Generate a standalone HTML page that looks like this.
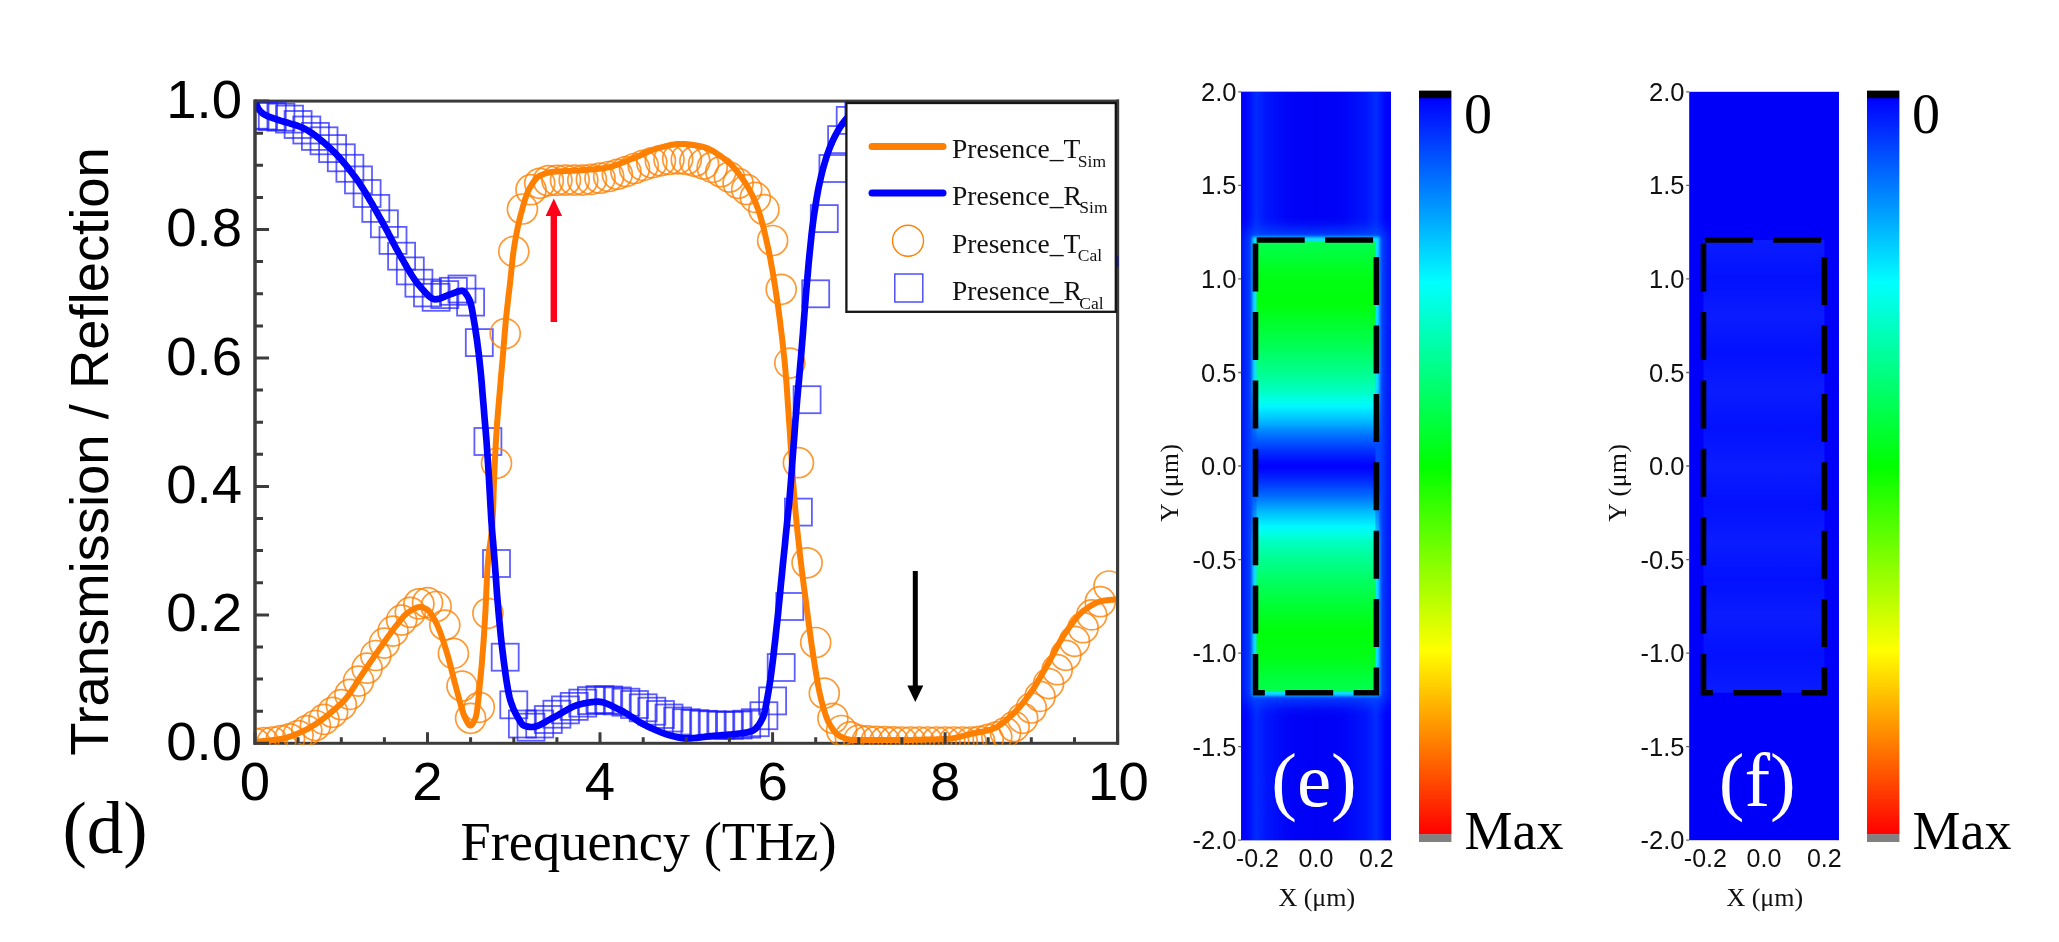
<!DOCTYPE html>
<html><head><meta charset="utf-8"><title>Figure</title>
<style>
html,body{margin:0;padding:0;background:#fff;}
body{width:2059px;height:942px;overflow:hidden;}
svg{display:block;filter:blur(0.55px)}
.sans{font-family:"Liberation Sans",Arial,sans-serif;}
.serif{font-family:"Liberation Serif","Times New Roman",serif;}
</style></head><body>
<svg width="2059" height="942" viewBox="0 0 2059 942">
<defs>
<clipPath id="pc"><rect x="255.8" y="102.0" width="860.9999999999999" height="642.8"/></clipPath>
<linearGradient id="jet" x1="0" y1="0" x2="0" y2="1">
<stop offset="0" stop-color="#0000ff"/><stop offset="0.25" stop-color="#00ffff"/><stop offset="0.5" stop-color="#00ff00"/><stop offset="0.75" stop-color="#ffff00"/><stop offset="1" stop-color="#ff0000"/>
</linearGradient>
<linearGradient id="inE" x1="0" y1="0" x2="0" y2="1"><stop offset="0.0000" stop-color="#00ff52"/><stop offset="0.0167" stop-color="#00ff45"/><stop offset="0.0333" stop-color="#00ff38"/><stop offset="0.0500" stop-color="#00ff2b"/><stop offset="0.0667" stop-color="#00ff1e"/><stop offset="0.0833" stop-color="#00ff14"/><stop offset="0.1000" stop-color="#00ff11"/><stop offset="0.1167" stop-color="#00ff0e"/><stop offset="0.1333" stop-color="#00ff0b"/><stop offset="0.1500" stop-color="#00ff13"/><stop offset="0.1667" stop-color="#00ff20"/><stop offset="0.1833" stop-color="#00ff2d"/><stop offset="0.2000" stop-color="#00ff3a"/><stop offset="0.2167" stop-color="#00ff47"/><stop offset="0.2333" stop-color="#00ff55"/><stop offset="0.2500" stop-color="#00ff65"/><stop offset="0.2667" stop-color="#00ff76"/><stop offset="0.2833" stop-color="#00ff86"/><stop offset="0.3000" stop-color="#00ff98"/><stop offset="0.3167" stop-color="#00ffad"/><stop offset="0.3333" stop-color="#00ffc1"/><stop offset="0.3500" stop-color="#00ffe4"/><stop offset="0.3667" stop-color="#00f8ff"/><stop offset="0.3833" stop-color="#00d9ff"/><stop offset="0.4000" stop-color="#00b9ff"/><stop offset="0.4167" stop-color="#0092ff"/><stop offset="0.4333" stop-color="#006dff"/><stop offset="0.4500" stop-color="#004eff"/><stop offset="0.4667" stop-color="#002fff"/><stop offset="0.4833" stop-color="#0015ff"/><stop offset="0.5000" stop-color="#0000ff"/><stop offset="0.5167" stop-color="#0015ff"/><stop offset="0.5333" stop-color="#002fff"/><stop offset="0.5500" stop-color="#004eff"/><stop offset="0.5667" stop-color="#006dff"/><stop offset="0.5833" stop-color="#0092ff"/><stop offset="0.6000" stop-color="#00b9ff"/><stop offset="0.6167" stop-color="#00d9ff"/><stop offset="0.6333" stop-color="#00f8ff"/><stop offset="0.6500" stop-color="#00ffe4"/><stop offset="0.6667" stop-color="#00ffc1"/><stop offset="0.6833" stop-color="#00ffad"/><stop offset="0.7000" stop-color="#00ff98"/><stop offset="0.7167" stop-color="#00ff86"/><stop offset="0.7333" stop-color="#00ff76"/><stop offset="0.7500" stop-color="#00ff65"/><stop offset="0.7667" stop-color="#00ff55"/><stop offset="0.7833" stop-color="#00ff47"/><stop offset="0.8000" stop-color="#00ff3a"/><stop offset="0.8167" stop-color="#00ff2d"/><stop offset="0.8333" stop-color="#00ff20"/><stop offset="0.8500" stop-color="#00ff13"/><stop offset="0.8667" stop-color="#00ff0b"/><stop offset="0.8833" stop-color="#00ff0e"/><stop offset="0.9000" stop-color="#00ff11"/><stop offset="0.9167" stop-color="#00ff14"/><stop offset="0.9333" stop-color="#00ff1e"/><stop offset="0.9500" stop-color="#00ff2b"/><stop offset="0.9667" stop-color="#00ff38"/><stop offset="0.9833" stop-color="#00ff45"/><stop offset="1.0000" stop-color="#00ff52"/></linearGradient><linearGradient id="hzE" x1="0" y1="0" x2="1" y2="0"><stop offset="0" stop-color="#0000fd"/><stop offset="0.04" stop-color="#0006ff"/><stop offset="0.10" stop-color="#002cff"/><stop offset="0.17" stop-color="#0014fc"/><stop offset="0.32" stop-color="#0003f7"/><stop offset="0.5" stop-color="#0000f5"/><stop offset="0.68" stop-color="#0003f7"/><stop offset="0.83" stop-color="#0014fc"/><stop offset="0.90" stop-color="#002cff"/><stop offset="0.96" stop-color="#0006ff"/><stop offset="1" stop-color="#0000fd"/></linearGradient><linearGradient id="glowUp" x1="0" y1="0" x2="0" y2="1"><stop offset="0" stop-color="#0048ff" stop-opacity="0"/><stop offset="0.6" stop-color="#0048ff" stop-opacity="0.25"/><stop offset="1" stop-color="#0058ff" stop-opacity="0.85"/></linearGradient><linearGradient id="glowDn" x1="0" y1="0" x2="0" y2="1"><stop offset="0" stop-color="#0058ff" stop-opacity="0.85"/><stop offset="0.4" stop-color="#0048ff" stop-opacity="0.25"/><stop offset="1" stop-color="#0048ff" stop-opacity="0"/></linearGradient><filter id="blur2" x="-20%" y="-5%" width="140%" height="110%"><feGaussianBlur stdDeviation="1.6"/></filter><filter id="blur7" x="-40%" y="-10%" width="180%" height="120%"><feGaussianBlur stdDeviation="7"/></filter><linearGradient id="rimE" x1="0" y1="0" x2="0" y2="1"><stop offset="0" stop-color="#10e0ff"/><stop offset="0.33" stop-color="#10e0ff"/><stop offset="0.45" stop-color="#0048ff"/><stop offset="0.55" stop-color="#0048ff"/><stop offset="0.67" stop-color="#10e0ff"/><stop offset="1" stop-color="#10e0ff"/></linearGradient><linearGradient id="sideE" x1="0" y1="0" x2="1" y2="0"><stop offset="0" stop-color="#0018ff"/><stop offset="0.05" stop-color="#0040ff"/><stop offset="0.095" stop-color="#0060ff"/><stop offset="0.0951" stop-color="#0060ff" stop-opacity="0"/><stop offset="0.9049" stop-color="#0060ff" stop-opacity="0"/><stop offset="0.905" stop-color="#0060ff"/><stop offset="0.95" stop-color="#0040ff"/><stop offset="1" stop-color="#0018ff"/></linearGradient>
<linearGradient id="inF" x1="0" y1="0" x2="0" y2="1"><stop offset="0.0000" stop-color="#0a1cff"/><stop offset="0.0833" stop-color="#0210ff"/><stop offset="0.1667" stop-color="#0a1cff"/><stop offset="0.2500" stop-color="#0210ff"/><stop offset="0.3333" stop-color="#0a1cff"/><stop offset="0.4167" stop-color="#0210ff"/><stop offset="0.5000" stop-color="#0a1cff"/><stop offset="0.5833" stop-color="#0210ff"/><stop offset="0.6667" stop-color="#0a1cff"/><stop offset="0.7500" stop-color="#0210ff"/><stop offset="0.8333" stop-color="#0a1cff"/><stop offset="0.9167" stop-color="#0210ff"/><stop offset="1.0000" stop-color="#0a1cff"/></linearGradient>
</defs>
<rect width="2059" height="942" fill="#fff"/>

<g id="plotd">
<rect x="255.0" y="101.1" width="862.5999999999999" height="642.1999999999999" stroke="#3c3c3c" stroke-width="3" fill="none"/>
<g clip-path="url(#pc)" fill="none">
<g stroke="#1a1aff" stroke-width="1.8" stroke-opacity="0.7"><rect x="241.5" y="101.7" width="27" height="27"/><rect x="250.1" y="102.4" width="27" height="27"/><rect x="258.8" y="103.0" width="27" height="27"/><rect x="267.4" y="103.7" width="27" height="27"/><rect x="276.0" y="105.6" width="27" height="27"/><rect x="284.6" y="111.0" width="27" height="27"/><rect x="293.3" y="116.5" width="27" height="27"/><rect x="301.9" y="122.9" width="27" height="27"/><rect x="310.5" y="127.3" width="27" height="27"/><rect x="319.1" y="135.1" width="27" height="27"/><rect x="327.8" y="144.3" width="27" height="27"/><rect x="336.4" y="154.8" width="27" height="27"/><rect x="345.0" y="166.4" width="27" height="27"/><rect x="353.6" y="180.0" width="27" height="27"/><rect x="362.3" y="194.9" width="27" height="27"/><rect x="370.9" y="210.3" width="27" height="27"/><rect x="379.5" y="226.9" width="27" height="27"/><rect x="388.1" y="242.7" width="27" height="27"/><rect x="396.8" y="257.4" width="27" height="27"/><rect x="405.4" y="269.7" width="27" height="27"/><rect x="414.0" y="279.4" width="27" height="27"/><rect x="422.6" y="283.8" width="27" height="27"/><rect x="431.3" y="281.1" width="27" height="27"/><rect x="439.9" y="277.8" width="27" height="27"/><rect x="448.5" y="275.5" width="27" height="27"/><rect x="457.1" y="288.6" width="27" height="27"/><rect x="465.8" y="329.1" width="27" height="27"/><rect x="474.4" y="428.0" width="27" height="27"/><rect x="483.0" y="550.0" width="27" height="27"/><rect x="491.7" y="643.7" width="27" height="27"/><rect x="500.3" y="691.3" width="27" height="27"/><rect x="508.9" y="710.5" width="27" height="27"/><rect x="517.5" y="713.7" width="27" height="27"/><rect x="526.2" y="710.5" width="27" height="27"/><rect x="534.8" y="706.0" width="27" height="27"/><rect x="543.4" y="700.7" width="27" height="27"/><rect x="552.0" y="696.4" width="27" height="27"/><rect x="560.7" y="692.9" width="27" height="27"/><rect x="569.3" y="689.6" width="27" height="27"/><rect x="577.9" y="687.1" width="27" height="27"/><rect x="586.5" y="686.1" width="27" height="27"/><rect x="595.2" y="686.5" width="27" height="27"/><rect x="603.8" y="687.4" width="27" height="27"/><rect x="612.4" y="688.7" width="27" height="27"/><rect x="621.0" y="691.0" width="27" height="27"/><rect x="629.7" y="694.3" width="27" height="27"/><rect x="638.3" y="697.7" width="27" height="27"/><rect x="646.9" y="701.0" width="27" height="27"/><rect x="655.5" y="704.5" width="27" height="27"/><rect x="664.2" y="707.5" width="27" height="27"/><rect x="672.8" y="709.2" width="27" height="27"/><rect x="681.4" y="710.1" width="27" height="27"/><rect x="690.1" y="710.8" width="27" height="27"/><rect x="698.7" y="711.3" width="27" height="27"/><rect x="707.3" y="711.7" width="27" height="27"/><rect x="715.9" y="711.8" width="27" height="27"/><rect x="724.6" y="711.5" width="27" height="27"/><rect x="733.2" y="710.7" width="27" height="27"/><rect x="741.8" y="709.2" width="27" height="27"/><rect x="750.4" y="702.2" width="27" height="27"/><rect x="759.1" y="687.4" width="27" height="27"/><rect x="767.7" y="654.0" width="27" height="27"/><rect x="776.3" y="593.0" width="27" height="27"/><rect x="784.9" y="498.6" width="27" height="27"/><rect x="793.6" y="386.2" width="27" height="27"/><rect x="802.2" y="280.3" width="27" height="27"/><rect x="810.8" y="205.1" width="27" height="27"/><rect x="819.4" y="155.0" width="27" height="27"/><rect x="828.1" y="126.1" width="27" height="27"/><rect x="836.7" y="106.9" width="27" height="27"/><rect x="845.3" y="97.2" width="27" height="27"/><rect x="853.9" y="94.8" width="27" height="27"/><rect x="862.6" y="93.0" width="27" height="27"/><rect x="871.2" y="91.8" width="27" height="27"/><rect x="879.8" y="91.0" width="27" height="27"/><rect x="888.4" y="90.8" width="27" height="27"/><rect x="897.1" y="90.8" width="27" height="27"/><rect x="905.7" y="90.8" width="27" height="27"/><rect x="914.3" y="90.8" width="27" height="27"/><rect x="923.0" y="90.8" width="27" height="27"/><rect x="931.6" y="90.8" width="27" height="27"/><rect x="940.2" y="90.8" width="27" height="27"/><rect x="948.8" y="90.8" width="27" height="27"/><rect x="957.5" y="90.8" width="27" height="27"/><rect x="966.1" y="90.8" width="27" height="27"/><rect x="974.7" y="90.8" width="27" height="27"/><rect x="983.3" y="90.8" width="27" height="27"/><rect x="992.0" y="90.8" width="27" height="27"/><rect x="1000.6" y="90.8" width="27" height="27"/><rect x="1009.2" y="90.8" width="27" height="27"/><rect x="1017.8" y="90.8" width="27" height="27"/><rect x="1026.5" y="90.8" width="27" height="27"/><rect x="1035.1" y="90.8" width="27" height="27"/><rect x="1043.7" y="90.8" width="27" height="27"/><rect x="1052.3" y="90.8" width="27" height="27"/><rect x="1061.0" y="90.8" width="27" height="27"/><rect x="1069.6" y="90.8" width="27" height="27"/><rect x="1078.2" y="90.8" width="27" height="27"/><rect x="1086.8" y="90.8" width="27" height="27"/><rect x="1095.5" y="90.8" width="27" height="27"/></g>
<g stroke="#ff8000" stroke-width="1.7" stroke-opacity="0.8"><circle cx="255.0" cy="743.3" r="15"/><circle cx="263.6" cy="742.7" r="15"/><circle cx="272.3" cy="742.0" r="15"/><circle cx="280.9" cy="740.7" r="15"/><circle cx="289.5" cy="738.8" r="15"/><circle cx="298.1" cy="735.6" r="15"/><circle cx="306.8" cy="730.6" r="15"/><circle cx="315.4" cy="725.5" r="15"/><circle cx="324.0" cy="719.4" r="15"/><circle cx="332.6" cy="712.3" r="15"/><circle cx="341.3" cy="704.7" r="15"/><circle cx="349.9" cy="694.4" r="15"/><circle cx="358.5" cy="681.1" r="15"/><circle cx="367.1" cy="668.2" r="15"/><circle cx="375.8" cy="655.5" r="15"/><circle cx="384.4" cy="643.1" r="15"/><circle cx="393.0" cy="631.1" r="15"/><circle cx="401.6" cy="620.1" r="15"/><circle cx="410.3" cy="612.3" r="15"/><circle cx="418.9" cy="603.9" r="15"/><circle cx="427.5" cy="602.7" r="15"/><circle cx="436.1" cy="606.5" r="15"/><circle cx="444.8" cy="625.1" r="15"/><circle cx="453.4" cy="653.4" r="15"/><circle cx="462.0" cy="686.1" r="15"/><circle cx="470.6" cy="718.3" r="15"/><circle cx="479.3" cy="707.3" r="15"/><circle cx="487.9" cy="613.3" r="15"/><circle cx="496.5" cy="463.3" r="15"/><circle cx="505.2" cy="333.6" r="15"/><circle cx="513.8" cy="251.4" r="15"/><circle cx="522.4" cy="209.0" r="15"/><circle cx="531.0" cy="189.7" r="15"/><circle cx="539.7" cy="183.3" r="15"/><circle cx="548.3" cy="180.7" r="15"/><circle cx="556.9" cy="180.3" r="15"/><circle cx="565.5" cy="180.1" r="15"/><circle cx="574.2" cy="180.1" r="15"/><circle cx="582.8" cy="180.1" r="15"/><circle cx="591.4" cy="179.4" r="15"/><circle cx="600.0" cy="178.2" r="15"/><circle cx="608.7" cy="176.5" r="15"/><circle cx="617.3" cy="174.3" r="15"/><circle cx="625.9" cy="171.6" r="15"/><circle cx="634.5" cy="168.5" r="15"/><circle cx="643.2" cy="165.4" r="15"/><circle cx="651.8" cy="162.8" r="15"/><circle cx="660.4" cy="160.8" r="15"/><circle cx="669.0" cy="159.5" r="15"/><circle cx="677.7" cy="158.9" r="15"/><circle cx="686.3" cy="159.5" r="15"/><circle cx="694.9" cy="161.3" r="15"/><circle cx="703.6" cy="164.0" r="15"/><circle cx="712.2" cy="167.4" r="15"/><circle cx="720.8" cy="171.7" r="15"/><circle cx="729.4" cy="177.1" r="15"/><circle cx="738.1" cy="183.3" r="15"/><circle cx="746.7" cy="189.6" r="15"/><circle cx="755.3" cy="197.4" r="15"/><circle cx="763.9" cy="209.6" r="15"/><circle cx="772.6" cy="240.5" r="15"/><circle cx="781.2" cy="289.3" r="15"/><circle cx="789.8" cy="363.1" r="15"/><circle cx="798.4" cy="462.7" r="15"/><circle cx="807.1" cy="562.8" r="15"/><circle cx="815.7" cy="642.5" r="15"/><circle cx="824.3" cy="693.2" r="15"/><circle cx="832.9" cy="718.3" r="15"/><circle cx="841.6" cy="730.5" r="15"/><circle cx="850.2" cy="736.9" r="15"/><circle cx="858.8" cy="740.1" r="15"/><circle cx="867.4" cy="740.8" r="15"/><circle cx="876.1" cy="741.4" r="15"/><circle cx="884.7" cy="741.7" r="15"/><circle cx="893.3" cy="741.9" r="15"/><circle cx="901.9" cy="742.0" r="15"/><circle cx="910.6" cy="742.0" r="15"/><circle cx="919.2" cy="742.0" r="15"/><circle cx="927.8" cy="742.0" r="15"/><circle cx="936.5" cy="742.0" r="15"/><circle cx="945.1" cy="742.0" r="15"/><circle cx="953.7" cy="742.0" r="15"/><circle cx="962.3" cy="742.0" r="15"/><circle cx="971.0" cy="742.0" r="15"/><circle cx="979.6" cy="741.3" r="15"/><circle cx="988.2" cy="739.4" r="15"/><circle cx="996.8" cy="736.9" r="15"/><circle cx="1005.5" cy="732.7" r="15"/><circle cx="1014.1" cy="726.6" r="15"/><circle cx="1022.7" cy="718.3" r="15"/><circle cx="1031.3" cy="708.0" r="15"/><circle cx="1040.0" cy="696.4" r="15"/><circle cx="1048.6" cy="683.6" r="15"/><circle cx="1057.2" cy="669.7" r="15"/><circle cx="1065.8" cy="655.3" r="15"/><circle cx="1074.5" cy="641.3" r="15"/><circle cx="1083.1" cy="627.7" r="15"/><circle cx="1091.7" cy="614.9" r="15"/><circle cx="1100.3" cy="601.7" r="15"/><circle cx="1109.0" cy="586.0" r="15"/></g>
<path d="M255.3,741.8 L256.3,741.7 L257.2,741.7 L258.2,741.6 L259.1,741.5 L260.1,741.4 L261.1,741.3 L262.0,741.2 L263.0,741.1 L263.9,741.1 L264.9,741.0 L265.9,740.9 L266.8,740.8 L267.8,740.7 L268.7,740.5 L269.7,740.4 L270.6,740.3 L271.6,740.2 L272.6,740.1 L273.5,740.0 L274.5,739.9 L275.4,739.8 L276.4,739.6 L277.4,739.5 L278.3,739.3 L279.3,739.2 L280.2,739.0 L281.2,738.9 L282.2,738.7 L283.1,738.5 L284.1,738.3 L285.0,738.0 L286.0,737.8 L287.0,737.5 L287.9,737.2 L288.9,736.9 L289.8,736.6 L290.8,736.3 L291.7,735.9 L292.7,735.6 L293.7,735.2 L294.6,734.8 L295.6,734.4 L296.5,734.0 L297.5,733.6 L298.5,733.2 L299.4,732.8 L300.4,732.3 L301.3,731.9 L302.3,731.5 L303.3,731.0 L304.2,730.6 L305.2,730.1 L306.1,729.7 L307.1,729.2 L308.1,728.7 L309.0,728.1 L310.0,727.6 L310.9,727.0 L311.9,726.4 L312.9,725.8 L313.8,725.2 L314.8,724.6 L315.7,724.0 L316.7,723.4 L317.6,722.7 L318.6,722.1 L319.6,721.4 L320.5,720.7 L321.5,720.1 L322.4,719.4 L323.4,718.6 L324.4,717.9 L325.3,717.1 L326.3,716.4 L327.2,715.6 L328.2,714.8 L329.2,714.0 L330.1,713.2 L331.1,712.4 L332.0,711.6 L333.0,710.7 L334.0,709.9 L334.9,709.1 L335.9,708.3 L336.8,707.4 L337.8,706.6 L338.7,705.7 L339.7,704.9 L340.7,704.0 L341.6,703.0 L342.6,702.1 L343.5,701.1 L344.5,700.1 L345.5,699.0 L346.4,697.8 L347.4,696.6 L348.3,695.3 L349.3,694.0 L350.3,692.6 L351.2,691.2 L352.2,689.8 L353.1,688.3 L354.1,686.8 L355.1,685.3 L356.0,683.8 L357.0,682.2 L357.9,680.7 L358.9,679.2 L359.9,677.7 L360.8,676.3 L361.8,674.8 L362.7,673.4 L363.7,672.0 L364.6,670.6 L365.6,669.2 L366.6,667.8 L367.5,666.4 L368.5,664.9 L369.4,663.5 L370.4,662.1 L371.4,660.7 L372.3,659.3 L373.3,657.9 L374.2,656.5 L375.2,655.1 L376.2,653.7 L377.1,652.3 L378.1,650.9 L379.0,649.5 L380.0,648.1 L381.0,646.8 L381.9,645.4 L382.9,644.0 L383.8,642.7 L384.8,641.3 L385.7,639.9 L386.7,638.5 L387.7,637.2 L388.6,635.8 L389.6,634.5 L390.5,633.2 L391.5,631.8 L392.5,630.6 L393.4,629.3 L394.4,628.0 L395.3,626.8 L396.3,625.6 L397.3,624.4 L398.2,623.2 L399.2,621.9 L400.1,620.7 L401.1,619.5 L402.1,618.3 L403.0,617.2 L404.0,616.1 L404.9,615.1 L405.9,614.2 L406.8,613.3 L407.8,612.6 L408.8,612.0 L409.7,611.4 L410.7,610.7 L411.6,610.1 L412.6,609.6 L413.6,609.0 L414.5,608.5 L415.5,608.1 L416.4,607.7 L417.4,607.4 L418.4,607.2 L419.3,607.0 L420.3,607.0 L421.2,607.1 L422.2,607.3 L423.2,607.6 L424.1,608.0 L425.1,608.5 L426.0,609.0 L427.0,609.5 L428.0,610.2 L428.9,611.1 L429.9,612.2 L430.8,613.5 L431.8,614.9 L432.7,616.5 L433.7,618.2 L434.7,619.9 L435.6,621.7 L436.6,623.5 L437.5,625.6 L438.5,627.8 L439.5,630.3 L440.4,632.8 L441.4,635.6 L442.3,638.4 L443.3,641.3 L444.3,644.2 L445.2,647.3 L446.2,650.3 L447.1,653.4 L448.1,656.7 L449.1,660.2 L450.0,663.9 L451.0,667.6 L451.9,671.4 L452.9,675.3 L453.8,679.1 L454.8,682.8 L455.8,686.5 L456.7,690.0 L457.7,693.5 L458.6,697.1 L459.6,700.7 L460.6,704.3 L461.5,707.7 L462.5,711.0 L463.4,713.9 L464.4,716.4 L465.4,718.4 L466.3,720.4 L467.3,722.3 L468.2,723.9 L469.2,725.1 L470.2,725.6 L471.1,725.4 L472.1,724.5 L473.0,723.2 L474.0,721.4 L475.0,719.3 L475.9,716.7 L476.9,711.9 L477.8,704.6 L478.8,695.7 L479.7,685.8 L480.7,675.6 L481.7,665.3 L482.6,653.8 L483.6,641.0 L484.5,626.8 L485.5,610.0 L486.5,588.0 L487.4,568.6 L488.4,557.2 L489.3,549.3 L490.3,542.7 L491.3,535.4 L492.2,525.3 L493.2,507.0 L494.1,477.7 L495.1,456.2 L496.1,438.4 L497.0,424.2 L498.0,412.2 L498.9,401.2 L499.9,390.0 L500.8,378.8 L501.8,367.8 L502.8,356.8 L503.7,345.5 L504.7,334.1 L505.6,323.1 L506.6,313.0 L507.6,304.1 L508.5,295.9 L509.5,288.0 L510.4,279.6 L511.4,270.2 L512.4,260.5 L513.3,252.6 L514.3,246.3 L515.2,240.5 L516.2,235.1 L517.2,230.2 L518.1,225.7 L519.1,221.5 L520.0,217.5 L521.0,213.8 L522.0,210.2 L522.9,206.7 L523.9,203.4 L524.8,200.2 L525.8,197.3 L526.7,194.6 L527.7,192.1 L528.7,190.0 L529.6,188.2 L530.6,186.6 L531.5,185.0 L532.5,183.5 L533.5,182.0 L534.4,180.7 L535.4,179.5 L536.3,178.4 L537.3,177.5 L538.3,176.7 L539.2,176.0 L540.2,175.5 L541.1,175.1 L542.1,174.7 L543.1,174.3 L544.0,173.9 L545.0,173.6 L545.9,173.2 L546.9,173.0 L547.8,172.7 L548.8,172.5 L549.8,172.3 L550.7,172.1 L551.7,172.0 L552.6,171.8 L553.6,171.7 L554.6,171.7 L555.5,171.6 L556.5,171.5 L557.4,171.4 L558.4,171.4 L559.4,171.3 L560.3,171.3 L561.3,171.2 L562.2,171.2 L563.2,171.1 L564.2,171.1 L565.1,171.1 L566.1,171.0 L567.0,171.0 L568.0,170.9 L569.0,170.9 L569.9,170.9 L570.9,170.8 L571.8,170.8 L572.8,170.8 L573.7,170.7 L574.7,170.7 L575.7,170.6 L576.6,170.6 L577.6,170.5 L578.5,170.5 L579.5,170.4 L580.5,170.3 L581.4,170.3 L582.4,170.2 L583.3,170.1 L584.3,170.1 L585.3,170.0 L586.2,169.9 L587.2,169.9 L588.1,169.8 L589.1,169.7 L590.1,169.6 L591.0,169.5 L592.0,169.5 L592.9,169.4 L593.9,169.3 L594.8,169.2 L595.8,169.1 L596.8,169.0 L597.7,168.9 L598.7,168.8 L599.6,168.7 L600.6,168.5 L601.6,168.4 L602.5,168.3 L603.5,168.2 L604.4,168.0 L605.4,167.9 L606.4,167.7 L607.3,167.6 L608.3,167.4 L609.2,167.2 L610.2,166.9 L611.2,166.7 L612.1,166.4 L613.1,166.1 L614.0,165.8 L615.0,165.5 L616.0,165.2 L616.9,164.8 L617.9,164.5 L618.8,164.1 L619.8,163.7 L620.7,163.3 L621.7,162.9 L622.7,162.6 L623.6,162.2 L624.6,161.8 L625.5,161.4 L626.5,161.0 L627.5,160.6 L628.4,160.2 L629.4,159.8 L630.3,159.4 L631.3,159.0 L632.3,158.7 L633.2,158.3 L634.2,157.9 L635.1,157.5 L636.1,157.1 L637.1,156.7 L638.0,156.3 L639.0,155.9 L639.9,155.5 L640.9,155.0 L641.8,154.6 L642.8,154.2 L643.8,153.7 L644.7,153.3 L645.7,152.9 L646.6,152.4 L647.6,152.0 L648.6,151.6 L649.5,151.2 L650.5,150.8 L651.4,150.4 L652.4,150.0 L653.4,149.7 L654.3,149.3 L655.3,149.0 L656.2,148.7 L657.2,148.4 L658.2,148.1 L659.1,147.9 L660.1,147.6 L661.0,147.4 L662.0,147.1 L663.0,146.9 L663.9,146.6 L664.9,146.4 L665.8,146.1 L666.8,145.9 L667.7,145.7 L668.7,145.5 L669.7,145.2 L670.6,145.0 L671.6,144.8 L672.5,144.7 L673.5,144.5 L674.5,144.4 L675.4,144.2 L676.4,144.1 L677.3,144.0 L678.3,144.0 L679.3,143.9 L680.2,143.9 L681.2,143.9 L682.1,143.9 L683.1,144.0 L684.1,144.0 L685.0,144.1 L686.0,144.1 L686.9,144.2 L687.9,144.3 L688.8,144.4 L689.8,144.5 L690.8,144.6 L691.7,144.8 L692.7,144.9 L693.6,145.0 L694.6,145.2 L695.6,145.4 L696.5,145.5 L697.5,145.7 L698.4,145.9 L699.4,146.1 L700.4,146.2 L701.3,146.4 L702.3,146.6 L703.2,146.9 L704.2,147.1 L705.2,147.4 L706.1,147.8 L707.1,148.1 L708.0,148.5 L709.0,149.0 L709.9,149.4 L710.9,149.9 L711.9,150.4 L712.8,151.0 L713.8,151.5 L714.7,152.1 L715.7,152.7 L716.7,153.4 L717.6,154.0 L718.6,154.7 L719.5,155.3 L720.5,156.0 L721.5,156.7 L722.4,157.4 L723.4,158.1 L724.3,158.8 L725.3,159.6 L726.3,160.3 L727.2,161.1 L728.2,161.9 L729.1,162.8 L730.1,163.7 L731.1,164.7 L732.0,165.7 L733.0,166.7 L733.9,167.8 L734.9,168.9 L735.8,170.0 L736.8,171.2 L737.8,172.4 L738.7,173.6 L739.7,174.9 L740.6,176.2 L741.6,177.5 L742.6,178.9 L743.5,180.3 L744.5,181.7 L745.4,183.2 L746.4,184.7 L747.4,186.3 L748.3,187.9 L749.3,189.6 L750.2,191.4 L751.2,193.2 L752.2,195.1 L753.1,197.2 L754.1,199.3 L755.0,201.5 L756.0,203.8 L756.9,206.2 L757.9,208.7 L758.9,211.5 L759.8,214.5 L760.8,217.7 L761.7,221.1 L762.7,224.8 L763.7,228.6 L764.6,232.5 L765.6,236.6 L766.5,240.8 L767.5,245.1 L768.5,249.5 L769.4,254.2 L770.4,259.2 L771.3,264.4 L772.3,269.8 L773.3,275.5 L774.2,281.3 L775.2,287.3 L776.1,293.5 L777.1,299.8 L778.1,306.5 L779.0,313.5 L780.0,320.9 L780.9,328.5 L781.9,336.5 L782.8,344.7 L783.8,353.5 L784.8,363.1 L785.7,373.8 L786.7,386.2 L787.6,399.9 L788.6,414.3 L789.6,428.6 L790.5,442.6 L791.5,457.1 L792.4,471.7 L793.4,485.7 L794.4,498.3 L795.3,509.4 L796.3,519.7 L797.2,529.3 L798.2,538.5 L799.2,547.2 L800.1,555.7 L801.1,563.9 L802.0,571.7 L803.0,579.3 L803.9,586.7 L804.9,593.9 L805.9,601.2 L806.8,608.5 L807.8,615.9 L808.7,623.3 L809.7,630.6 L810.7,637.8 L811.6,644.7 L812.6,651.3 L813.5,657.5 L814.5,663.6 L815.5,669.7 L816.4,675.5 L817.4,681.2 L818.3,686.5 L819.3,691.4 L820.3,695.9 L821.2,699.8 L822.2,703.5 L823.1,707.0 L824.1,710.2 L825.1,713.3 L826.0,716.1 L827.0,718.6 L827.9,720.9 L828.9,722.8 L829.8,724.5 L830.8,726.1 L831.8,727.6 L832.7,729.1 L833.7,730.4 L834.6,731.6 L835.6,732.8 L836.6,733.8 L837.5,734.6 L838.5,735.3 L839.4,735.9 L840.4,736.4 L841.4,736.8 L842.3,737.3 L843.3,737.7 L844.2,738.1 L845.2,738.4 L846.2,738.8 L847.1,739.1 L848.1,739.3 L849.0,739.6 L850.0,739.7 L850.9,739.9 L851.9,740.0 L852.9,740.0 L853.8,740.0 L854.8,740.0 L855.7,740.0 L856.7,740.0 L857.7,740.0 L858.6,740.0 L859.6,740.0 L860.5,740.0 L861.5,740.0 L862.5,740.0 L863.4,740.0 L864.4,740.0 L865.3,740.0 L866.3,740.0 L867.3,740.0 L868.2,740.0 L869.2,740.0 L870.1,740.0 L871.1,740.0 L872.1,740.0 L873.0,740.0 L874.0,740.0 L874.9,740.0 L875.9,740.0 L876.8,740.0 L877.8,740.0 L878.8,740.0 L879.7,740.0 L880.7,740.0 L881.6,740.0 L882.6,740.0 L883.6,740.0 L884.5,740.0 L885.5,740.0 L886.4,740.0 L887.4,740.0 L888.4,740.0 L889.3,740.0 L890.3,740.0 L891.2,740.0 L892.2,740.0 L893.2,740.0 L894.1,740.0 L895.1,740.0 L896.0,740.0 L897.0,740.0 L897.9,740.0 L898.9,740.0 L899.9,740.0 L900.8,740.0 L901.8,740.0 L902.7,740.0 L903.7,740.0 L904.7,739.9 L905.6,739.9 L906.6,739.9 L907.5,739.9 L908.5,739.9 L909.5,739.9 L910.4,739.9 L911.4,739.9 L912.3,739.9 L913.3,739.9 L914.3,739.8 L915.2,739.8 L916.2,739.8 L917.1,739.8 L918.1,739.8 L919.1,739.8 L920.0,739.7 L921.0,739.7 L921.9,739.7 L922.9,739.7 L923.8,739.7 L924.8,739.6 L925.8,739.6 L926.7,739.6 L927.7,739.6 L928.6,739.5 L929.6,739.5 L930.6,739.5 L931.5,739.5 L932.5,739.4 L933.4,739.4 L934.4,739.4 L935.4,739.4 L936.3,739.3 L937.3,739.3 L938.2,739.3 L939.2,739.2 L940.2,739.2 L941.1,739.2 L942.1,739.1 L943.0,739.1 L944.0,739.1 L944.9,739.0 L945.9,739.0 L946.9,738.9 L947.8,738.9 L948.8,738.8 L949.7,738.7 L950.7,738.6 L951.7,738.4 L952.6,738.3 L953.6,738.1 L954.5,737.9 L955.5,737.7 L956.5,737.5 L957.4,737.3 L958.4,737.1 L959.3,736.9 L960.3,736.6 L961.3,736.4 L962.2,736.1 L963.2,735.9 L964.1,735.6 L965.1,735.4 L966.1,735.1 L967.0,734.9 L968.0,734.7 L968.9,734.4 L969.9,734.2 L970.8,734.0 L971.8,733.7 L972.8,733.5 L973.7,733.3 L974.7,733.1 L975.6,732.9 L976.6,732.7 L977.6,732.5 L978.5,732.3 L979.5,732.2 L980.4,732.0 L981.4,731.8 L982.4,731.6 L983.3,731.4 L984.3,731.2 L985.2,730.9 L986.2,730.7 L987.2,730.5 L988.1,730.2 L989.1,730.0 L990.0,729.7 L991.0,729.4 L991.9,729.1 L992.9,728.7 L993.9,728.4 L994.8,728.0 L995.8,727.6 L996.7,727.1 L997.7,726.5 L998.7,725.9 L999.6,725.3 L1000.6,724.7 L1001.5,724.0 L1002.5,723.2 L1003.5,722.5 L1004.4,721.7 L1005.4,720.9 L1006.3,720.1 L1007.3,719.2 L1008.3,718.4 L1009.2,717.5 L1010.2,716.7 L1011.1,715.8 L1012.1,714.9 L1013.0,714.0 L1014.0,713.1 L1015.0,712.1 L1015.9,711.1 L1016.9,710.1 L1017.8,709.1 L1018.8,708.0 L1019.8,706.9 L1020.7,705.7 L1021.7,704.6 L1022.6,703.4 L1023.6,702.2 L1024.6,700.9 L1025.5,699.7 L1026.5,698.4 L1027.4,697.1 L1028.4,695.8 L1029.4,694.5 L1030.3,693.2 L1031.3,691.8 L1032.2,690.4 L1033.2,689.0 L1034.2,687.5 L1035.1,686.0 L1036.1,684.4 L1037.0,682.8 L1038.0,681.2 L1038.9,679.5 L1039.9,677.9 L1040.9,676.2 L1041.8,674.5 L1042.8,672.8 L1043.7,671.1 L1044.7,669.5 L1045.7,667.8 L1046.6,666.1 L1047.6,664.5 L1048.5,662.8 L1049.5,661.0 L1050.5,659.3 L1051.4,657.5 L1052.4,655.7 L1053.3,653.9 L1054.3,652.1 L1055.3,650.2 L1056.2,648.4 L1057.2,646.7 L1058.1,644.9 L1059.1,643.2 L1060.0,641.5 L1061.0,639.8 L1062.0,638.2 L1062.9,636.7 L1063.9,635.2 L1064.8,633.7 L1065.8,632.3 L1066.8,630.9 L1067.7,629.6 L1068.7,628.2 L1069.6,626.8 L1070.6,625.5 L1071.6,624.1 L1072.5,622.8 L1073.5,621.6 L1074.4,620.3 L1075.4,619.1 L1076.4,617.9 L1077.3,616.8 L1078.3,615.7 L1079.2,614.7 L1080.2,613.7 L1081.2,612.8 L1082.1,611.9 L1083.1,611.1 L1084.0,610.4 L1085.0,609.7 L1085.9,609.0 L1086.9,608.4 L1087.9,607.7 L1088.8,607.0 L1089.8,606.4 L1090.7,605.8 L1091.7,605.2 L1092.7,604.7 L1093.6,604.1 L1094.6,603.6 L1095.5,603.1 L1096.5,602.7 L1097.5,602.3 L1098.4,601.9 L1099.4,601.6 L1100.3,601.3 L1101.3,601.1 L1102.3,600.9 L1103.2,600.8 L1104.2,600.6 L1105.1,600.5 L1106.1,600.4 L1107.0,600.2 L1108.0,600.1 L1109.0,600.0 L1109.9,599.9 L1110.9,599.8 L1111.8,599.7 L1112.8,599.7 L1113.8,599.6 L1114.7,599.6 L1115.7,599.5 L1116.6,599.5 L1117.6,599.5" stroke="#ff8000" stroke-width="6" stroke-linejoin="round"/>
<path d="M255.3,100.9 L256.3,103.8 L257.2,106.4 L258.2,108.3 L259.1,109.7 L260.1,111.0 L261.1,112.0 L262.0,112.9 L263.0,113.7 L263.9,114.3 L264.9,114.8 L265.9,115.3 L266.8,115.8 L267.8,116.2 L268.7,116.6 L269.7,117.0 L270.6,117.3 L271.6,117.6 L272.6,118.0 L273.5,118.3 L274.5,118.6 L275.4,118.9 L276.4,119.3 L277.4,119.6 L278.3,119.9 L279.3,120.3 L280.2,120.6 L281.2,120.9 L282.2,121.2 L283.1,121.5 L284.1,121.7 L285.0,122.0 L286.0,122.3 L287.0,122.6 L287.9,122.8 L288.9,123.1 L289.8,123.4 L290.8,123.7 L291.7,123.9 L292.7,124.2 L293.7,124.5 L294.6,124.8 L295.6,125.1 L296.5,125.5 L297.5,125.8 L298.5,126.1 L299.4,126.5 L300.4,126.9 L301.3,127.3 L302.3,127.7 L303.3,128.1 L304.2,128.6 L305.2,129.1 L306.1,129.6 L307.1,130.1 L308.1,130.7 L309.0,131.3 L310.0,131.9 L310.9,132.5 L311.9,133.1 L312.9,133.8 L313.8,134.5 L314.8,135.2 L315.7,135.9 L316.7,136.7 L317.6,137.4 L318.6,138.2 L319.6,139.0 L320.5,139.8 L321.5,140.6 L322.4,141.4 L323.4,142.2 L324.4,143.0 L325.3,143.9 L326.3,144.7 L327.2,145.6 L328.2,146.4 L329.2,147.3 L330.1,148.2 L331.1,149.1 L332.0,150.0 L333.0,150.9 L334.0,151.8 L334.9,152.8 L335.9,153.8 L336.8,154.8 L337.8,155.8 L338.7,156.9 L339.7,157.9 L340.7,159.0 L341.6,160.1 L342.6,161.2 L343.5,162.4 L344.5,163.5 L345.5,164.7 L346.4,165.8 L347.4,167.0 L348.3,168.2 L349.3,169.4 L350.3,170.7 L351.2,171.9 L352.2,173.2 L353.1,174.4 L354.1,175.7 L355.1,177.0 L356.0,178.3 L357.0,179.6 L357.9,181.0 L358.9,182.4 L359.9,183.8 L360.8,185.3 L361.8,186.7 L362.7,188.2 L363.7,189.8 L364.6,191.3 L365.6,192.9 L366.6,194.5 L367.5,196.1 L368.5,197.7 L369.4,199.3 L370.4,201.0 L371.4,202.6 L372.3,204.3 L373.3,206.0 L374.2,207.7 L375.2,209.4 L376.2,211.1 L377.1,212.8 L378.1,214.5 L379.0,216.2 L380.0,217.9 L381.0,219.6 L381.9,221.3 L382.9,223.0 L383.8,224.7 L384.8,226.5 L385.7,228.3 L386.7,230.1 L387.7,231.9 L388.6,233.8 L389.6,235.6 L390.5,237.5 L391.5,239.3 L392.5,241.2 L393.4,243.1 L394.4,244.9 L395.3,246.7 L396.3,248.6 L397.3,250.3 L398.2,252.1 L399.2,253.8 L400.1,255.5 L401.1,257.2 L402.1,258.8 L403.0,260.4 L404.0,262.1 L404.9,263.8 L405.9,265.4 L406.8,267.1 L407.8,268.7 L408.8,270.3 L409.7,271.9 L410.7,273.5 L411.6,275.0 L412.6,276.5 L413.6,278.0 L414.5,279.4 L415.5,280.8 L416.4,282.1 L417.4,283.3 L418.4,284.5 L419.3,285.6 L420.3,286.7 L421.2,287.8 L422.2,288.9 L423.2,290.0 L424.1,291.1 L425.1,292.2 L426.0,293.2 L427.0,294.2 L428.0,295.2 L428.9,296.1 L429.9,296.9 L430.8,297.6 L431.8,298.2 L432.7,298.7 L433.7,299.1 L434.7,299.3 L435.6,299.3 L436.6,299.2 L437.5,299.1 L438.5,298.9 L439.5,298.6 L440.4,298.3 L441.4,298.0 L442.3,297.6 L443.3,297.2 L444.3,296.8 L445.2,296.3 L446.2,295.9 L447.1,295.5 L448.1,295.1 L449.1,294.7 L450.0,294.4 L451.0,294.1 L451.9,293.8 L452.9,293.4 L453.8,293.0 L454.8,292.7 L455.8,292.3 L456.7,292.0 L457.7,291.6 L458.6,291.4 L459.6,291.2 L460.6,291.0 L461.5,290.9 L462.5,290.9 L463.4,291.3 L464.4,292.0 L465.4,293.0 L466.3,294.3 L467.3,295.8 L468.2,297.5 L469.2,299.4 L470.2,301.5 L471.1,305.0 L472.1,309.7 L473.0,315.1 L474.0,321.0 L475.0,326.8 L475.9,332.9 L476.9,339.5 L477.8,346.6 L478.8,354.3 L479.7,362.6 L480.7,372.0 L481.7,382.8 L482.6,394.4 L483.6,406.0 L484.5,417.4 L485.5,428.9 L486.5,441.0 L487.4,454.4 L488.4,468.9 L489.3,484.5 L490.3,502.3 L491.3,519.4 L492.2,532.1 L493.2,543.2 L494.1,554.7 L495.1,567.6 L496.1,581.0 L497.0,593.9 L498.0,605.7 L498.9,616.3 L499.9,626.4 L500.8,636.0 L501.8,645.0 L502.8,653.2 L503.7,660.7 L504.7,667.9 L505.6,674.8 L506.6,681.4 L507.6,687.4 L508.5,692.7 L509.5,697.1 L510.4,700.5 L511.4,703.5 L512.4,706.1 L513.3,708.6 L514.3,710.7 L515.2,712.7 L516.2,714.6 L517.2,716.3 L518.1,717.9 L519.1,719.5 L520.0,721.1 L521.0,722.6 L522.0,723.9 L522.9,724.9 L523.9,725.6 L524.8,725.9 L525.8,726.1 L526.7,726.4 L527.7,726.6 L528.7,726.7 L529.6,726.9 L530.6,727.0 L531.5,727.0 L532.5,727.0 L533.5,726.9 L534.4,726.8 L535.4,726.6 L536.3,726.3 L537.3,726.0 L538.3,725.6 L539.2,725.2 L540.2,724.8 L541.1,724.3 L542.1,723.8 L543.1,723.3 L544.0,722.7 L545.0,722.2 L545.9,721.6 L546.9,721.0 L547.8,720.5 L548.8,719.9 L549.8,719.4 L550.7,718.9 L551.7,718.3 L552.6,717.9 L553.6,717.4 L554.6,716.9 L555.5,716.4 L556.5,715.9 L557.4,715.4 L558.4,714.9 L559.4,714.3 L560.3,713.8 L561.3,713.2 L562.2,712.6 L563.2,712.0 L564.2,711.5 L565.1,710.9 L566.1,710.4 L567.0,709.8 L568.0,709.3 L569.0,708.7 L569.9,708.2 L570.9,707.7 L571.8,707.2 L572.8,706.8 L573.7,706.4 L574.7,706.0 L575.7,705.6 L576.6,705.2 L577.6,704.9 L578.5,704.7 L579.5,704.4 L580.5,704.2 L581.4,704.0 L582.4,703.8 L583.3,703.6 L584.3,703.4 L585.3,703.2 L586.2,703.0 L587.2,702.8 L588.1,702.7 L589.1,702.5 L590.1,702.3 L591.0,702.2 L592.0,702.1 L592.9,702.0 L593.9,701.9 L594.8,701.8 L595.8,701.8 L596.8,701.7 L597.7,701.7 L598.7,701.7 L599.6,701.8 L600.6,701.9 L601.6,702.1 L602.5,702.3 L603.5,702.5 L604.4,702.8 L605.4,703.1 L606.4,703.5 L607.3,703.9 L608.3,704.3 L609.2,704.7 L610.2,705.1 L611.2,705.6 L612.1,706.1 L613.1,706.5 L614.0,707.0 L615.0,707.5 L616.0,708.0 L616.9,708.5 L617.9,708.9 L618.8,709.4 L619.8,709.8 L620.7,710.3 L621.7,710.8 L622.7,711.3 L623.6,711.8 L624.6,712.4 L625.5,712.9 L626.5,713.5 L627.5,714.1 L628.4,714.7 L629.4,715.4 L630.3,716.0 L631.3,716.6 L632.3,717.3 L633.2,717.9 L634.2,718.5 L635.1,719.2 L636.1,719.8 L637.1,720.4 L638.0,721.1 L639.0,721.7 L639.9,722.3 L640.9,722.8 L641.8,723.4 L642.8,723.9 L643.8,724.5 L644.7,725.0 L645.7,725.4 L646.6,725.9 L647.6,726.4 L648.6,726.8 L649.5,727.3 L650.5,727.7 L651.4,728.2 L652.4,728.6 L653.4,729.0 L654.3,729.5 L655.3,729.9 L656.2,730.3 L657.2,730.7 L658.2,731.1 L659.1,731.5 L660.1,731.9 L661.0,732.3 L662.0,732.7 L663.0,733.0 L663.9,733.4 L664.9,733.7 L665.8,734.1 L666.8,734.4 L667.7,734.7 L668.7,735.0 L669.7,735.3 L670.6,735.5 L671.6,735.8 L672.5,736.0 L673.5,736.2 L674.5,736.5 L675.4,736.7 L676.4,736.9 L677.3,737.2 L678.3,737.4 L679.3,737.6 L680.2,737.8 L681.2,738.0 L682.1,738.1 L683.1,738.2 L684.1,738.3 L685.0,738.4 L686.0,738.4 L686.9,738.4 L687.9,738.4 L688.8,738.3 L689.8,738.3 L690.8,738.3 L691.7,738.2 L692.7,738.1 L693.6,738.0 L694.6,738.0 L695.6,737.9 L696.5,737.8 L697.5,737.7 L698.4,737.6 L699.4,737.4 L700.4,737.3 L701.3,737.2 L702.3,737.1 L703.2,737.0 L704.2,736.9 L705.2,736.7 L706.1,736.6 L707.1,736.5 L708.0,736.4 L709.0,736.3 L709.9,736.2 L710.9,736.1 L711.9,736.0 L712.8,735.9 L713.8,735.8 L714.7,735.8 L715.7,735.7 L716.7,735.6 L717.6,735.5 L718.6,735.5 L719.5,735.4 L720.5,735.3 L721.5,735.2 L722.4,735.2 L723.4,735.1 L724.3,735.0 L725.3,734.9 L726.3,734.9 L727.2,734.8 L728.2,734.7 L729.1,734.6 L730.1,734.5 L731.1,734.5 L732.0,734.4 L733.0,734.3 L733.9,734.2 L734.9,734.1 L735.8,734.0 L736.8,733.9 L737.8,733.8 L738.7,733.6 L739.7,733.5 L740.6,733.4 L741.6,733.3 L742.6,733.1 L743.5,733.0 L744.5,732.8 L745.4,732.7 L746.4,732.5 L747.4,732.3 L748.3,732.1 L749.3,731.8 L750.2,731.6 L751.2,731.3 L752.2,730.9 L753.1,730.5 L754.1,729.9 L755.0,729.2 L756.0,728.3 L756.9,727.2 L757.9,726.0 L758.9,724.7 L759.8,723.2 L760.8,721.6 L761.7,719.8 L762.7,717.9 L763.7,715.5 L764.6,712.0 L765.6,707.7 L766.5,702.7 L767.5,697.2 L768.5,691.5 L769.4,685.7 L770.4,679.5 L771.3,672.5 L772.3,664.9 L773.3,656.9 L774.2,648.6 L775.2,640.1 L776.1,631.5 L777.1,622.6 L778.1,613.3 L779.0,603.7 L780.0,594.0 L780.9,584.3 L781.9,574.7 L782.8,565.1 L783.8,555.5 L784.8,545.8 L785.7,536.2 L786.7,526.7 L787.6,517.5 L788.6,508.3 L789.6,498.2 L790.5,486.7 L791.5,474.2 L792.4,461.1 L793.4,447.8 L794.4,434.8 L795.3,422.3 L796.3,410.6 L797.2,399.4 L798.2,388.4 L799.2,377.6 L800.1,366.8 L801.1,355.8 L802.0,344.5 L803.0,332.6 L803.9,320.1 L804.9,307.4 L805.9,295.3 L806.8,284.2 L807.8,273.4 L808.7,262.8 L809.7,252.7 L810.7,243.0 L811.6,234.1 L812.6,225.9 L813.5,218.7 L814.5,211.9 L815.5,205.6 L816.4,199.7 L817.4,194.2 L818.3,189.1 L819.3,184.4 L820.3,180.0 L821.2,175.9 L822.2,172.0 L823.1,168.3 L824.1,164.9 L825.1,161.6 L826.0,158.5 L827.0,155.5 L827.9,152.8 L828.9,150.1 L829.8,147.6 L830.8,145.2 L831.8,143.0 L832.7,140.8 L833.7,138.8 L834.6,136.8 L835.6,135.0 L836.6,133.2 L837.5,131.5 L838.5,129.9 L839.4,128.3 L840.4,126.7 L841.4,125.3 L842.3,123.8 L843.3,122.5 L844.2,121.3 L845.2,120.1 L846.2,119.0 L847.1,118.0 L848.1,117.1 L849.0,116.1 L850.0,115.2 L850.9,114.2 L851.9,113.4 L852.9,112.5 L853.8,111.8 L854.8,111.0 L855.7,110.3 L856.7,109.7 L857.7,109.1 L858.6,108.6 L859.6,108.2 L860.5,107.8 L861.5,107.4 L862.5,107.1 L863.4,106.7 L864.4,106.4 L865.3,106.1 L866.3,105.8 L867.3,105.5 L868.2,105.2 L869.2,105.0 L870.1,104.7 L871.1,104.5 L872.1,104.2 L873.0,104.0 L874.0,103.8 L874.9,103.7 L875.9,103.5 L876.8,103.4 L877.8,103.2 L878.8,103.1 L879.7,103.0 L880.7,102.9 L881.6,102.9 L882.6,102.8 L883.6,102.7 L884.5,102.6 L885.5,102.6 L886.4,102.5 L887.4,102.4 L888.4,102.3 L889.3,102.3 L890.3,102.2 L891.2,102.2 L892.2,102.1 L893.2,102.0 L894.1,102.0 L895.1,101.9 L896.0,101.9 L897.0,101.8 L897.9,101.8 L898.9,101.8 L899.9,101.7 L900.8,101.7 L901.8,101.7 L902.7,101.6 L903.7,101.6 L904.7,101.6 L905.6,101.6 L906.6,101.5 L907.5,101.5 L908.5,101.5 L909.5,101.5 L910.4,101.5 L911.4,101.5 L912.3,101.5 L913.3,101.5 L914.3,101.5 L915.2,101.5 L916.2,101.5 L917.1,101.5 L918.1,101.5 L919.1,101.5 L920.0,101.5 L921.0,101.4 L921.9,101.4 L922.9,101.4 L923.8,101.4 L924.8,101.4 L925.8,101.4 L926.7,101.4 L927.7,101.4 L928.6,101.4 L929.6,101.4 L930.6,101.4 L931.5,101.4 L932.5,101.4 L933.4,101.4 L934.4,101.4 L935.4,101.4 L936.3,101.4 L937.3,101.4 L938.2,101.4 L939.2,101.4 L940.2,101.4 L941.1,101.4 L942.1,101.4 L943.0,101.4 L944.0,101.4 L944.9,101.4 L945.9,101.4 L946.9,101.4 L947.8,101.4 L948.8,101.4 L949.7,101.4 L950.7,101.4 L951.7,101.4 L952.6,101.3 L953.6,101.3 L954.5,101.3 L955.5,101.3 L956.5,101.3 L957.4,101.3 L958.4,101.3 L959.3,101.3 L960.3,101.3 L961.3,101.3 L962.2,101.3 L963.2,101.3 L964.1,101.3 L965.1,101.3 L966.1,101.3 L967.0,101.3 L968.0,101.3 L968.9,101.3 L969.9,101.3 L970.8,101.3 L971.8,101.3 L972.8,101.3 L973.7,101.3 L974.7,101.3 L975.6,101.3 L976.6,101.3 L977.6,101.3 L978.5,101.3 L979.5,101.3 L980.4,101.3 L981.4,101.3 L982.4,101.3 L983.3,101.3 L984.3,101.3 L985.2,101.3 L986.2,101.3 L987.2,101.3 L988.1,101.3 L989.1,101.3 L990.0,101.3 L991.0,101.3 L991.9,101.3 L992.9,101.3 L993.9,101.3 L994.8,101.3 L995.8,101.3 L996.7,101.3 L997.7,101.3 L998.7,101.3 L999.6,101.3 L1000.6,101.3 L1001.5,101.3 L1002.5,101.3 L1003.5,101.3 L1004.4,101.3 L1005.4,101.3 L1006.3,101.3 L1007.3,101.3 L1008.3,101.3 L1009.2,101.3 L1010.2,101.3 L1011.1,101.3 L1012.1,101.3 L1013.0,101.3 L1014.0,101.3 L1015.0,101.3 L1015.9,101.3 L1016.9,101.3 L1017.8,101.3 L1018.8,101.3 L1019.8,101.3 L1020.7,101.3 L1021.7,101.3 L1022.6,101.3 L1023.6,101.3 L1024.6,101.3 L1025.5,101.3 L1026.5,101.3 L1027.4,101.3 L1028.4,101.3 L1029.4,101.3 L1030.3,101.3 L1031.3,101.3 L1032.2,101.3 L1033.2,101.3 L1034.2,101.3 L1035.1,101.3 L1036.1,101.3 L1037.0,101.3 L1038.0,101.3 L1038.9,101.3 L1039.9,101.3 L1040.9,101.3 L1041.8,101.3 L1042.8,101.3 L1043.7,101.3 L1044.7,101.3 L1045.7,101.3 L1046.6,101.3 L1047.6,101.3 L1048.5,101.3 L1049.5,101.3 L1050.5,101.3 L1051.4,101.3 L1052.4,101.3 L1053.3,101.3 L1054.3,101.3 L1055.3,101.3 L1056.2,101.3 L1057.2,101.3 L1058.1,101.3 L1059.1,101.3 L1060.0,101.3 L1061.0,101.3 L1062.0,101.3 L1062.9,101.3 L1063.9,101.3 L1064.8,101.3 L1065.8,101.3 L1066.8,101.3 L1067.7,101.3 L1068.7,101.3 L1069.6,101.3 L1070.6,101.3 L1071.6,101.3 L1072.5,101.3 L1073.5,101.3 L1074.4,101.3 L1075.4,101.3 L1076.4,101.3 L1077.3,101.3 L1078.3,101.3 L1079.2,101.3 L1080.2,101.3 L1081.2,101.3 L1082.1,101.3 L1083.1,101.3 L1084.0,101.3 L1085.0,101.3 L1085.9,101.3 L1086.9,101.3 L1087.9,101.3 L1088.8,101.3 L1089.8,101.3 L1090.7,101.3 L1091.7,101.3 L1092.7,101.3 L1093.6,101.3 L1094.6,101.3 L1095.5,101.3 L1096.5,101.3 L1097.5,101.3 L1098.4,101.3 L1099.4,101.3 L1100.3,101.3 L1101.3,101.3 L1102.3,101.3 L1103.2,101.3 L1104.2,101.3 L1105.1,101.3 L1106.1,101.3 L1107.0,101.3 L1108.0,101.3 L1109.0,101.3 L1109.9,101.3 L1110.9,101.3 L1111.8,101.3 L1112.8,101.3 L1113.8,101.3 L1114.7,101.3 L1115.7,101.3 L1116.6,101.3 L1117.6,101.3" stroke="#0000ff" stroke-width="6.7" stroke-linejoin="round"/>
</g>
<g stroke="#3c3c3c" stroke-width="3" fill="none">
<path d="M255.0,99.6V744.8M1117.6,99.6V744.8"/>
<path d="M255.0,743.3h14 M255.0,711.2h8 M255.0,679.1h8 M255.0,647.0h8 M255.0,614.9h14 M255.0,582.8h8 M255.0,550.6h8 M255.0,518.5h8 M255.0,486.4h14 M255.0,454.3h8 M255.0,422.2h8 M255.0,390.1h8 M255.0,358.0h14 M255.0,325.9h8 M255.0,293.8h8 M255.0,261.6h8 M255.0,229.5h14 M255.0,197.4h8 M255.0,165.3h8 M255.0,133.2h8 M255.0,101.1h14 M255.0,743.3v-11 M298.1,743.3v-6 M341.3,743.3v-6 M384.4,743.3v-6 M427.5,743.3v-11 M470.6,743.3v-6 M513.8,743.3v-6 M556.9,743.3v-6 M600.0,743.3v-11 M643.2,743.3v-6 M686.3,743.3v-6 M729.4,743.3v-6 M772.6,743.3v-11 M815.7,743.3v-6 M858.8,743.3v-6 M901.9,743.3v-6 M945.1,743.3v-11 M988.2,743.3v-6 M1031.3,743.3v-6 M1074.5,743.3v-6 M1117.6,743.3v-11"/>
</g>
<g class="sans" font-size="54.5" fill="#000" text-anchor="end">
<text x="242" y="759.8">0.0</text>
<text x="242" y="631.4">0.2</text>
<text x="242" y="502.9">0.4</text>
<text x="242" y="374.5">0.6</text>
<text x="242" y="246.0">0.8</text>
<text x="242" y="117.6">1.0</text>
</g>
<g class="sans" font-size="54.5" fill="#000" text-anchor="middle">
<text x="255.0" y="799.6">0</text>
<text x="427.5" y="799.6">2</text>
<text x="600.0" y="799.6">4</text>
<text x="772.6" y="799.6">6</text>
<text x="945.1" y="799.6">8</text>
<text x="1118.4" y="799.6">10</text>
</g>
<text class="sans" font-size="54.4" fill="#000" text-anchor="middle" transform="translate(107.5,451.5) rotate(-90)">Transmission / Reflection</text>
<text class="serif" font-size="54.4" fill="#000" x="460.5" y="860">Frequency (THz)</text>
<text class="serif" font-size="73" fill="#000" x="62.5" y="853">(d)</text>
<g fill="#ff0018"><rect x="550.6" y="213" width="6.4" height="109"/><path d="M553.8,198.5 L562,216 L545.6,216 Z"/></g>
<g fill="#000"><rect x="912.8" y="571" width="5" height="117"/><path d="M915.3,702 L907.3,685.5 L923.3,685.5 Z"/></g>
<rect x="846.4" y="103.0" width="269.4" height="208.8" fill="#fff" stroke="#161616" stroke-width="2.3"/>
<rect x="1116.8" y="256" width="1.6" height="11" fill="#0000ff" opacity="0.7"/>
<path d="M872,146.4H943" stroke="#ff8000" stroke-width="7" stroke-linecap="round"/>
<path d="M872,193H943" stroke="#0000ff" stroke-width="7" stroke-linecap="round"/>
<circle cx="908" cy="240.7" r="15.5" fill="none" stroke="#ff8000" stroke-width="1.4"/>
<rect x="894.8" y="274" width="28" height="28" fill="none" stroke="#2222ff" stroke-width="1.4" stroke-opacity="0.85"/>
<g class="serif" fill="#111">
<text x="952" y="158.3" font-size="27.5">Presence_T<tspan font-size="17.5" dx="-2.5" dy="8.5">Sim</tspan></text>
<text x="952" y="204.9" font-size="27.5">Presence_R<tspan font-size="17.5" dx="-2.5" dy="8.5">Sim</tspan></text>
<text x="952" y="252.7" font-size="27.5">Presence_T<tspan font-size="17.5" dx="-2.5" dy="8.5">Cal</tspan></text>
<text x="952" y="300.4" font-size="27.5">Presence_R<tspan font-size="17.5" dx="-2.5" dy="8.5">Cal</tspan></text>
</g>
</g>
<g id="e">
<rect x="1241.2" y="91.8" width="149.8" height="748.4" fill="#0000fa"/>
<rect x="1241.2" y="91.8" width="149.8" height="748.4" fill="url(#hzE)"/>
<clipPath id="hcE"><rect x="1241.2" y="91.8" width="149.8" height="748.4"/></clipPath>
<g clip-path="url(#hcE)">
<g filter="url(#blur7)"><rect x="1252.5" y="237.0" width="126.9" height="458.7" fill="#0050ff" stroke="#0050ff" stroke-width="14" opacity="0.95"/></g>
<g filter="url(#blur2)"><rect x="1255.5" y="240.0" width="120.9" height="452.7" fill="none" stroke="url(#rimE)" stroke-width="6.5"/></g>
</g>
<rect x="1256.5" y="241.0" width="118.9" height="450.7" fill="url(#inE)"/>
<rect x="1255.5" y="240.0" width="120.9" height="452.7" fill="none" stroke="#000" stroke-width="5.6" stroke-dasharray="48 20.4" stroke-dashoffset="-1.2"/>
<g class="sans" font-size="25.5" fill="#111" text-anchor="end">
<text x="1236.5" y="100.8">2.0</text>
<text x="1236.5" y="194.4">1.5</text>
<text x="1236.5" y="287.9">1.0</text>
<text x="1236.5" y="381.5">0.5</text>
<text x="1236.5" y="475.0">0.0</text>
<text x="1236.5" y="568.6">-0.5</text>
<text x="1236.5" y="662.1">-1.0</text>
<text x="1236.5" y="755.7">-1.5</text>
<text x="1236.5" y="849.2">-2.0</text>
</g>
<path d="M1238.2,91.8h3 M1238.2,185.4h3 M1238.2,278.9h3 M1238.2,372.5h3 M1238.2,466.0h3 M1238.2,559.6h3 M1238.2,653.1h3 M1238.2,746.7h3 M1238.2,840.2h3" stroke="#666" stroke-width="1.3"/>
<g class="sans" font-size="25" fill="#111" text-anchor="middle">
<text x="1257.4" y="867">-0.2</text><text x="1316" y="867">0.0</text><text x="1376.3" y="867">0.2</text>
</g>
<text class="serif" font-size="26" fill="#111" text-anchor="middle" x="1316.8" y="906.4">X (μm)</text>
<text class="serif" font-size="25.5" letter-spacing="0.7" fill="#111" text-anchor="middle" transform="translate(1177.5,482.5) rotate(-90)">Y (μm)</text>
<text class="serif" font-size="77" fill="#fff" text-anchor="middle" x="1314" y="806.3">(e)</text>
<rect x="1419.0" y="98" width="32.4" height="736.5" fill="url(#jet)"/>
<rect x="1419.0" y="90.6" width="32.4" height="7.6" fill="#000"/>
<rect x="1419.0" y="834.2" width="32.4" height="7.8" fill="#808080"/>
<text class="serif" font-size="56" fill="#000" x="1464" y="132.8">0</text>
<text class="serif" font-size="54" fill="#000" x="1464.5" y="849">Max</text>
</g>
<g id="f">
<rect x="1689.2" y="91.8" width="149.8" height="748.4" fill="#0000fa"/>
<rect x="1703.5" y="240.0" width="120.9" height="452.7" fill="url(#inF)"/>
<rect x="1703.5" y="240.0" width="120.9" height="452.7" fill="none" stroke="#000" stroke-width="5.6" stroke-dasharray="48 20.4" stroke-dashoffset="-1.2"/>
<g class="sans" font-size="25.5" fill="#111" text-anchor="end">
<text x="1684.5" y="100.8">2.0</text>
<text x="1684.5" y="194.4">1.5</text>
<text x="1684.5" y="287.9">1.0</text>
<text x="1684.5" y="381.5">0.5</text>
<text x="1684.5" y="475.0">0.0</text>
<text x="1684.5" y="568.6">-0.5</text>
<text x="1684.5" y="662.1">-1.0</text>
<text x="1684.5" y="755.7">-1.5</text>
<text x="1684.5" y="849.2">-2.0</text>
</g>
<path d="M1686.2,91.8h3 M1686.2,185.4h3 M1686.2,278.9h3 M1686.2,372.5h3 M1686.2,466.0h3 M1686.2,559.6h3 M1686.2,653.1h3 M1686.2,746.7h3 M1686.2,840.2h3" stroke="#666" stroke-width="1.3"/>
<g class="sans" font-size="25" fill="#111" text-anchor="middle">
<text x="1705.4" y="867">-0.2</text><text x="1764" y="867">0.0</text><text x="1824.3" y="867">0.2</text>
</g>
<text class="serif" font-size="26" fill="#111" text-anchor="middle" x="1764.8" y="906.4">X (μm)</text>
<text class="serif" font-size="25.5" letter-spacing="0.7" fill="#111" text-anchor="middle" transform="translate(1625.5,482.5) rotate(-90)">Y (μm)</text>
<text class="serif" font-size="77" fill="#fff" text-anchor="middle" x="1757.3" y="806.3">(f)</text>
<rect x="1867.0" y="98" width="32.4" height="736.5" fill="url(#jet)"/>
<rect x="1867.0" y="90.6" width="32.4" height="7.6" fill="#000"/>
<rect x="1867.0" y="834.2" width="32.4" height="7.8" fill="#808080"/>
<text class="serif" font-size="56" fill="#000" x="1912" y="132.8">0</text>
<text class="serif" font-size="54" fill="#000" x="1912.5" y="849">Max</text>
</g>
</svg></body></html>
